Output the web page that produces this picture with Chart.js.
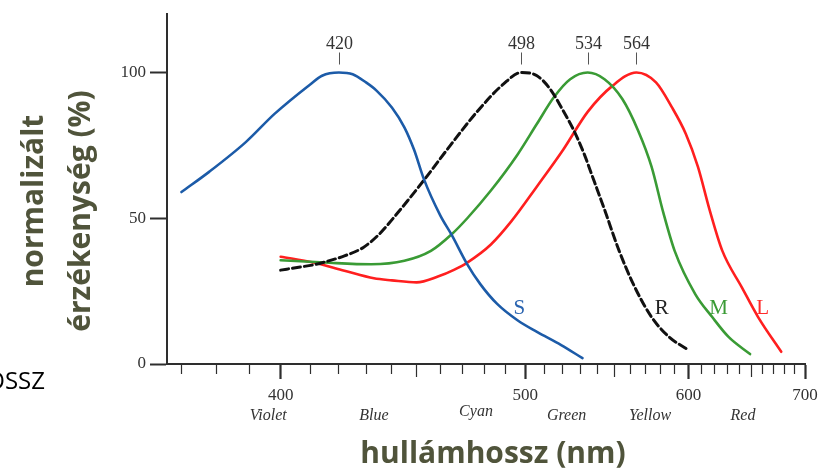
<!DOCTYPE html>
<html>
<head>
<meta charset="utf-8">
<title>Csapok és pálcikák érzékenysége</title>
<script src="https://cdn.jsdelivr.net/npm/chart.js@4/dist/chart.umd.min.js"></script>
<style>
  html, body { margin: 0; padding: 0; background: #fff; }
  #cones { display: block; }
</style>
</head>
<body>
<canvas id="cones" width="830" height="472" style="width:830px;height:472px"></canvas>
<script>
// hullámhossz (nm) és normalizált érzékenység (%)
var sWave  = [370, 378, 389, 398, 410, 414, 420, 425, 430, 434, 440, 445, 449, 453, 460, 465, 472, 478, 486, 496, 506, 519, 531];
var sValue = [59, 66, 76.2, 85.8, 96, 98.9, 100, 99.4, 96.6, 93.8, 88, 81.2, 73.4, 63.5, 51, 44.3, 34.2, 27.4, 20.6, 15, 11, 6.5, 2];

var rWave  = [400, 406, 411, 415, 422, 429, 435, 441, 453, 465, 477, 489, 498, 506, 513, 520, 526, 532, 536, 544, 553, 563, 574, 586, 600];
var rValue = [32.2, 33.2, 34, 35, 37.1, 40, 44.5, 50.5, 63, 75.6, 87, 96, 100, 98.9, 94.3, 87, 80.2, 72, 65.6, 53, 38.8, 26.3, 16.1, 9.3, 4.8];

var mWave  = [400, 415, 432, 445, 456, 465, 472, 483, 496, 506, 515, 524, 534, 544, 555, 565, 574, 582, 590, 605, 618, 631, 649];
var mValue = [35.6, 34.8, 34.2, 35.4, 38.8, 44.5, 50, 59.5, 71.8, 82.4, 91.5, 97.7, 100, 97.7, 90.9, 80.2, 67.7, 52, 38.8, 24, 16.1, 9.3, 3.4];

var lWave  = [400, 411, 422, 433, 440, 450, 459, 466, 472, 483, 493, 506, 520, 534, 549, 564, 577, 588, 598, 607, 616, 626, 642, 656, 677];
var lValue = [36.8, 34.8, 32, 29.4, 28.7, 28, 30, 32.3, 34.8, 41, 49, 60.9, 73.4, 86.5, 95.5, 100, 96.6, 88.1, 79, 67.7, 52.8, 38.8, 26.3, 16.1, 4.2];

var peakWaves = [420, 498, 534, 564];
var xLabels = [400, 500, 600, 700];
var yLabels = [0, 50, 100];
var bandNames = ['Violet', 'Blue', 'Cyan', 'Green', 'Yellow', 'Red'];
var bandWaves = [396, 433, 476, 522, 573, 643];
var curveNames = ['S', 'R', 'M', 'L'];
var curveNameWaves = [497, 581, 623, 660];

var waveMin = 366, waveMax = 700;

// x tengely 1/λ szerint (egyenletes hullámszám)
class ReciprocalScale extends Chart.LinearScale {
    getPixelForValue(value) {
        if (value === null || isNaN(value)) return NaN;
        var a = 1 / this.min, b = 1 / this.max;
        return this.getPixelForDecimal((a - 1 / value) / (a - b));
    }
    getValueForPixel(pixel) {
        var a = 1 / this.min, b = 1 / this.max;
        var d = this.getDecimalForPixel(pixel);
        return 1 / (a - d * (a - b));
    }
}
ReciprocalScale.id = 'reciprocal';
ReciprocalScale.defaults = Chart.LinearScale.defaults;
Chart.register(ReciprocalScale);

function toPoints(waves, values) {
    return waves.map(function(w, i) { return { x: w, y: values[i] }; });
}

var axisColor = '#2e2e2e';
var titleColor = '#50543b';
var serif = '"Liberation Serif", "DejaVu Serif", serif';

var curveColors = ['#1c5ba8', '#111111', '#3a9b35', '#ff1f1f'];
var letterColors = ['#2a64b0', '#222222', '#3a9b35', '#ff2a2a'];

var annotations = {
    id: 'annotations',
    afterDraw: function(chart) {
        var ctx = chart.ctx;
        var x = chart.scales.x, y = chart.scales.y;
        ctx.save();

        // csúcsok jelölése
        var top = y.getPixelForValue(100);
        ctx.font = '18px ' + serif;
        ctx.fillStyle = '#333';
        ctx.strokeStyle = '#555';
        ctx.lineWidth = 1;
        ctx.textAlign = 'center';
        ctx.textBaseline = 'alphabetic';
        peakWaves.forEach(function(w) {
            var px = Math.round(x.getPixelForValue(w)) + 0.5;
            ctx.beginPath();
            ctx.moveTo(px, top - 8);
            ctx.lineTo(px, top - 20);
            ctx.stroke();
            ctx.fillText(String(w), px, top - 24);
        });

        // színtartományok nevei
        ctx.font = 'italic 16px ' + serif;
        ctx.fillStyle = '#333';
        bandNames.forEach(function(name, i) {
            var lift = name === 'Cyan' ? 4 : 0;
            ctx.fillText(name, x.getPixelForValue(bandWaves[i]), y.bottom + 56 - lift);
        });

        // görbék betűjelei
        ctx.font = '21px ' + serif;
        ctx.textBaseline = 'middle';
        curveNames.forEach(function(name, i) {
            ctx.fillStyle = letterColors[i];
            ctx.fillText(name, x.getPixelForValue(curveNameWaves[i]), y.getPixelForValue(19));
        });

        // tengelycímek
        ctx.fillStyle = titleColor;
        ctx.font = 'bold 30px "Open Sans", sans-serif';
        ctx.textBaseline = 'alphabetic';
        ctx.fillText('hullámhossz (nm)', 493, 463);

        ctx.save();
        ctx.translate(43, 201);
        ctx.rotate(-Math.PI / 2);
        ctx.fillText('normalizált', 0, 0);
        ctx.restore();

        ctx.save();
        ctx.translate(90, 211);
        ctx.rotate(-Math.PI / 2);
        ctx.fillText('érzékenység (%)', 0, 0);
        ctx.restore();

        ctx.fillStyle = '#000';
        ctx.font = '24px "Open Sans", sans-serif';
        ctx.textAlign = 'right';
        ctx.fillText('OSSZ', 45, 389);

        ctx.restore();
    }
};

var ctx = document.getElementById('cones').getContext('2d');
var conesChart = new Chart(ctx, {
    type: 'line',
    data: {
        datasets: [
            {
                label: 'S',
                data: toPoints(sWave, sValue),
                borderColor: curveColors[0],
                borderWidth: 2.6
            },
            {
                label: 'R',
                data: toPoints(rWave, rValue),
                borderColor: curveColors[1],
                borderWidth: 3,
                borderDash: [8, 4]
            },
            {
                label: 'M',
                data: toPoints(mWave, mValue),
                borderColor: curveColors[2],
                borderWidth: 2.6
            },
            {
                label: 'L',
                data: toPoints(lWave, lValue),
                borderColor: curveColors[3],
                borderWidth: 2.6
            }
        ]
    },
    options: {
        responsive: false,
        animation: false,
        events: [],
        elements: {
            point: { radius: 0 },
            line: { cubicInterpolationMode: 'monotone', borderCapStyle: 'round' }
        },
        layout: { padding: { top: 12, right: 25, bottom: 0, left: 0 } },
        plugins: {
            legend: { display: false },
            tooltip: { enabled: false }
        },
        scales: {
            x: {
                type: 'reciprocal',
                min: waveMin,
                max: waveMax,
                afterBuildTicks: function(scale) {
                    var ticks = [];
                    for (var w = 370; w <= waveMax; w += 10) ticks.push({ value: w });
                    scale.ticks = ticks;
                },
                afterFit: function(scale) { scale.height = 108; },
                border: { color: axisColor, width: 2 },
                grid: {
                    drawOnChartArea: false,
                    tickLength: 15,
                    tickColor: axisColor,
                    tickWidth: function(c) {
                        return c.tick && c.tick.value % 100 === 0 ? 2.2 : 1.2;
                    },
                    tickBorderDash: function(c) {
                        var v = c.tick ? c.tick.value : 0;
                        if (v % 100 === 0) return [];
                        if (v % 50 === 0) return [12, 100];
                        return [9, 100];
                    }
                },
                ticks: {
                    autoSkip: false,
                    maxRotation: 0,
                    padding: 6,
                    color: '#333',
                    font: { family: serif, size: 17 },
                    callback: function(value) {
                        return xLabels.indexOf(value) >= 0 ? String(value) : '';
                    }
                }
            },
            y: {
                min: 0,
                max: 120,
                afterBuildTicks: function(scale) {
                    scale.ticks = yLabels.map(function(v) { return { value: v }; });
                },
                afterFit: function(scale) { scale.width = 167; },
                border: { color: axisColor, width: 2 },
                grid: {
                    drawOnChartArea: false,
                    tickLength: 17,
                    tickColor: axisColor,
                    tickWidth: 2
                },
                ticks: {
                    padding: 4,
                    color: '#333',
                    font: { family: serif, size: 17 }
                }
            }
        }
    },
    plugins: [annotations]
});
</script>
</body>
</html>
